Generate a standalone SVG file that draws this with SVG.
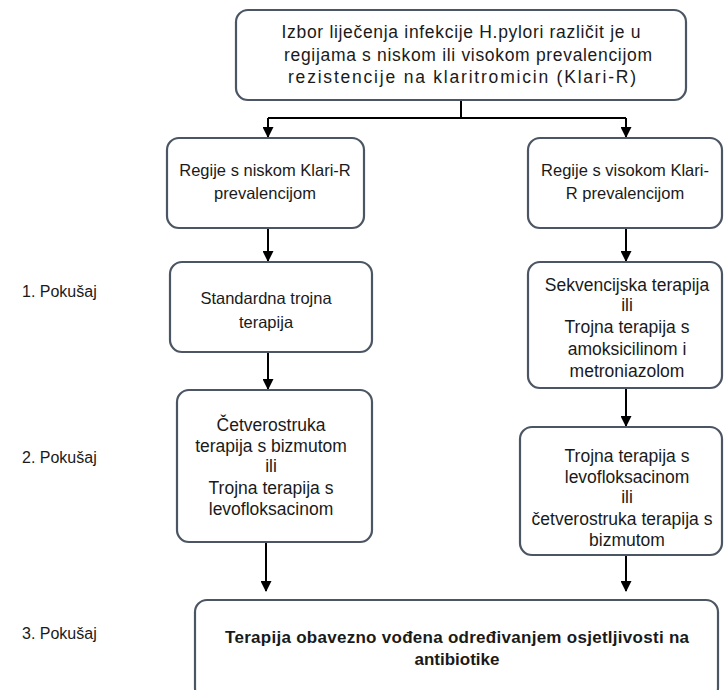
<svg xmlns="http://www.w3.org/2000/svg" width="724" height="690" viewBox="0 0 724 690">
<defs>
<marker id="ah" markerWidth="11" markerHeight="11" refX="10" refY="5.5" orient="auto" markerUnits="userSpaceOnUse" viewBox="0 0 11 11"><path d="M0,0 L11,5.5 L0,11 z" fill="#000"/></marker>
<style>
.box{fill:#fff;stroke:#4b5563;stroke-width:2.2}
.t{font-family:"Liberation Sans",Arial,sans-serif;font-size:16.5px;fill:#1a1a1a;text-anchor:middle}
.m{font-size:17.5px}
.b{font-weight:bold;font-size:17px}
.lab{font-family:"Liberation Sans",Arial,sans-serif;font-size:16px;fill:#1a1a1a}
.c{stroke:#000;stroke-width:2;fill:none}
</style>
</defs>
<rect width="724" height="690" fill="#fff"/>
<g id="connectors">
<path class="c" d="M461,100 V118"/>
<path class="c" d="M268,118 H626"/>
<path class="c" d="M268,118 V137" marker-end="url(#ah)"/>
<path class="c" d="M626,118 V137" marker-end="url(#ah)"/>
<path class="c" d="M268,228 V261" marker-end="url(#ah)"/>
<path class="c" d="M626,228 V261" marker-end="url(#ah)"/>
<path class="c" d="M268,352 V389" marker-end="url(#ah)"/>
<path class="c" d="M626,388 V426" marker-end="url(#ah)"/>
<path class="c" d="M266,542 V591" marker-end="url(#ah)"/>
<path class="c" d="M626,555 V591" marker-end="url(#ah)"/>
</g>
<g id="labels">
<text class="lab" x="22" y="297">1. Pokušaj</text>
<text class="lab" x="22" y="463">2. Pokušaj</text>
<text class="lab" x="22" y="639">3. Pokušaj</text>
</g>
<g id="n-top">
<rect class="box" x="236" y="10" width="450" height="90" rx="12"/>
<text class="t m" x="461" y="38" textLength="359" lengthAdjust="spacing">Izbor liječenja infekcije H.pylori različit je u</text>
<text class="t m" x="468" y="61" textLength="368" lengthAdjust="spacing">regijama s niskom ili visokom prevalencijom</text>
<text class="t m" x="462" y="83" textLength="348" lengthAdjust="spacing">rezistencije na klaritromicin (Klari-R)</text>
</g>
<g id="n-low">
<rect class="box" x="167" y="138" width="197" height="90" rx="12"/>
<text class="t" x="265" y="176">Regije s niskom Klari-R</text>
<text class="t" x="265" y="199">prevalencijom</text>
</g>
<g id="n-high">
<rect class="box" x="528" y="138" width="194" height="90" rx="12"/>
<text class="t" x="625" y="176">Regije s visokom Klari-</text>
<text class="t" x="625" y="199">R prevalencijom</text>
</g>
<g id="n-l1">
<rect class="box" x="170" y="262" width="202" height="90" rx="12"/>
<text class="t" x="266" y="304">Standardna trojna</text>
<text class="t" x="266" y="328">terapija</text>
</g>
<g id="n-r1">
<rect class="box" x="528" y="262" width="194" height="126" rx="12"/>
<text class="t m" x="627" y="291">Sekvencijska terapija</text>
<text class="t m" x="627" y="311">ili</text>
<text class="t m" x="627" y="333">Trojna terapija s</text>
<text class="t m" x="627" y="355">amoksicilinom i</text>
<text class="t m" x="627" y="377">metroniazolom</text>
</g>
<g id="n-l2">
<rect class="box" x="177" y="390" width="195" height="152" rx="12"/>
<text class="t m" x="271" y="431">Četverostruka</text>
<text class="t m" x="271" y="452">terapija s bizmutom</text>
<text class="t m" x="271" y="472">ili</text>
<text class="t m" x="271" y="494">Trojna terapija s</text>
<text class="t m" x="271" y="515">levofloksacinom</text>
</g>
<g id="n-r2">
<rect class="box" x="520" y="427" width="202" height="128" rx="12"/>
<text class="t m" x="627" y="462">Trojna terapija s</text>
<text class="t m" x="627" y="483">levofloksacinom</text>
<text class="t m" x="627" y="503">ili</text>
<text class="t m" x="622" y="525">četverostruka terapija s</text>
<text class="t m" x="627" y="546">bizmutom</text>
</g>
<g id="n-bottom">
<rect class="box" x="195" y="600" width="523" height="100" rx="12"/>
<text class="t b" x="457" y="643" textLength="464" lengthAdjust="spacing">Terapija obavezno vođena određivanjem osjetljivosti na</text>
<text class="t b" x="457" y="665">antibiotike</text>
</g>
</svg>
